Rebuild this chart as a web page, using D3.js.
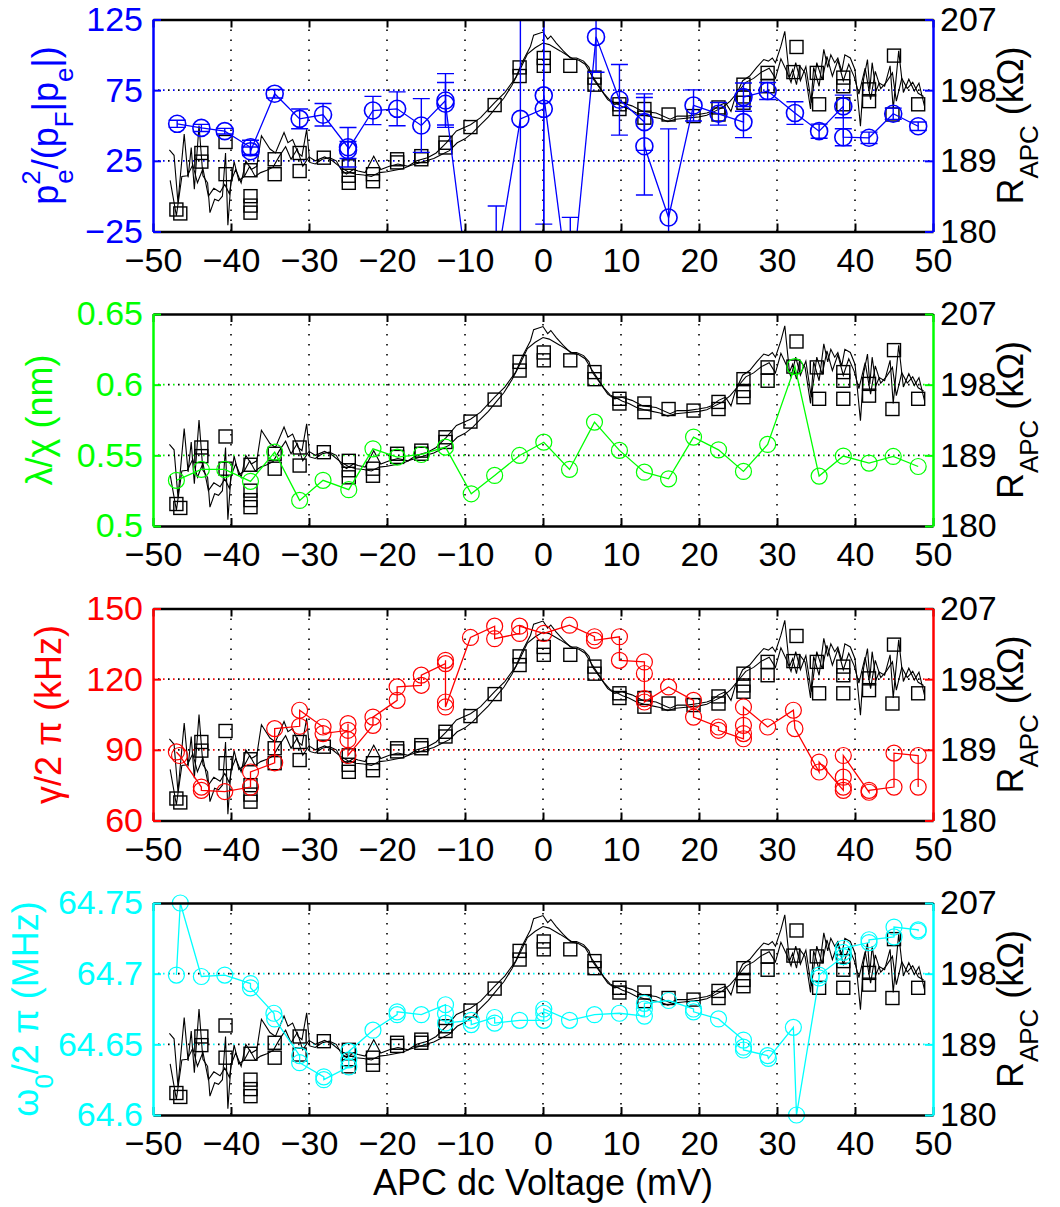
<!DOCTYPE html>
<html>
<head>
<meta charset="utf-8">
<script src="https://cdn.jsdelivr.net/npm/d3@7/dist/d3.min.js"></script>
<style>
  body { margin: 0; background: #fff; }
  svg { display: block; }
</style>
</head>
<body>
<svg id="fig" width="1060" height="1207"></svg>
<script>
// ---- shared axis values ----
const xTicks = [-50, -40, -30, -20, -10, 0, 10, 20, 30, 40, 50];
const rTicks = [180, 189, 198, 207];
const rTickLabels = ["180", "189", "198", "207"];

// ---- R_APC continuous sweeps [mV, kOhm] ----
const sweepUp = [
  [-47.9,190.4],[-47.3,189.7],[-46.8,183.7],[-46.0,192.4],[-45.5,186.9],[-45.1,190.7],[-44.7,185.4],[-44.1,193.5],
  [-43.6,187.1],[-43.0,186.2],[-42.7,182.4],[-42.1,184.1],[-41.6,183.9],[-41.1,184.5],[-40.7,190.0],[-40.4,180.8],
  [-40.0,186.4],[-39.4,187.9],[-38.7,186.2],[-38.1,189.0],[-37.4,187.9],[-36.7,188.3],[-36.1,192.2],[-35.0,190.5],
  [-34.3,190.0],[-33.2,192.6],[-32.7,191.3],[-32.1,191.7],[-31.4,190.0],[-30.9,189.6],[-30.3,193.0],[-29.9,188.8],
  [-29.2,188.6],[-28.3,189.2],[-27.4,189.4],[-26.5,189.0],[-25.9,187.9],[-25.2,187.3],[-24.3,187.9],[-23.7,187.7],
  [-22.8,187.5],[-21.7,189.6],[-20.8,187.9],[-19.7,188.3],[-18.6,188.6],[-17.3,188.3],[-16.2,189.0],[-14.8,189.4],
  [-13.7,190.0],[-12.4,191.3],[-11.1,192.8],[-9.3,193.6],[-8.0,194.5],[-6.2,196.4],[-4.9,197.7],[-3.5,199.6],
  [-2.7,201.5],[-1.6,203.6],[-1.2,205.0],[0.0,205.4],[0.6,204.5],[1.0,204.9],[1.7,204.0],[2.6,203.0],
  [3.5,202.1],[4.3,202.1],[5.2,201.7],[5.9,200.9],[6.3,199.6],[7.4,198.1],[8.3,196.8],[9.2,196.2],
  [10.1,196.4],[11.4,196.0],[12.8,195.3],[14.5,195.1],[16.3,194.3],[17.2,194.7],[18.5,194.7],[19.9,194.9],
  [21.0,195.1],[21.6,195.3],[22.5,196.0],[23.4,196.4],[24.1,195.3],[24.7,197.3],[25.6,199.2],[26.5,199.8],
  [27.4,200.9],[28.3,201.9],[28.9,201.7],[29.4,202.1],[29.8,201.5],[30.5,203.6],[31.0,205.5],[31.6,199.6],
  [32.0,200.6],[32.5,198.7],[32.9,201.1],[33.6,200.2],[34.3,195.6],[34.7,200.9],[35.4,198.5],[36.0,203.2],
  [36.5,200.9],[36.9,202.5],[37.4,201.5],[37.8,202.1],[38.3,200.4],[38.7,202.5],[39.4,202.1],[40.0,200.6],
  [40.7,193.4],[41.1,199.4],[41.6,201.9],[41.9,198.1],[42.2,201.5],[42.7,197.9],[43.1,198.9],[43.8,198.5],
  [44.5,201.1],[44.9,195.6],[45.6,203.0],[46.2,197.7],[46.9,199.4],[47.6,197.9],[48.2,198.9],[48.9,196.0]
];
const sweepDown = [
  [-47.8,186.5],[-47.0,182.0],[-46.3,187.0],[-45.6,187.1],[-44.9,188.5],[-44.3,186.2],[-43.6,188.0],[-42.9,184.5],
  [-42.2,185.5],[-41.4,185.0],[-40.8,186.0],[-40.2,184.8],[-39.6,188.9],[-39.0,186.5],[-38.3,187.0],[-37.6,188.3],
  [-36.9,187.0],[-36.2,187.5],[-35.4,187.8],[-34.6,188.2],[-33.8,189.6],[-33.0,190.8],[-32.3,189.2],[-31.5,190.5],
  [-30.8,188.3],[-30.0,189.5],[-29.2,189.0],[-28.0,189.5],[-27.0,189.0],[-26.0,188.2],[-25.0,187.6],[-24.0,187.3],
  [-23.0,187.2],[-22.0,187.0],[-21.0,187.5],[-20.0,187.6],[-19.0,187.8],[-18.0,188.0],[-17.0,188.4],[-16.0,188.7],
  [-15.0,189.0],[-14.0,189.3],[-13.0,189.8],[-12.0,190.3],[-11.0,191.3],[-10.0,191.8],[-9.0,192.6],[-8.0,193.6],
  [-7.0,194.6],[-6.0,195.8],[-5.0,197.0],[-4.0,198.6],[-3.0,200.5],[-2.0,202.6],[-1.0,203.4],[0.0,204.0],
  [0.8,203.8],[1.5,203.4],[2.2,203.0],[3.0,202.5],[3.8,202.0],[4.6,201.8],[5.4,201.3],[6.2,200.0],
  [7.0,198.8],[7.8,197.6],[8.6,196.7],[9.4,196.3],[10.2,195.9],[11.0,195.6],[12.0,195.1],[13.0,194.8],
  [14.0,194.6],[15.0,194.4],[16.0,194.0],[17.0,194.3],[18.0,194.4],[19.0,194.5],[20.0,194.6],[21.0,194.8],
  [22.0,195.3],[23.0,195.8],[24.0,196.6],[25.0,197.8],[26.0,199.0],[27.0,199.5],[28.0,200.3],[29.0,200.8],
  [29.8,199.5],[30.5,202.0],[31.2,200.5],[31.8,199.0],[32.4,201.5],[33.0,199.2],[33.7,201.0],[34.4,196.4],
  [35.1,201.5],[35.8,199.3],[36.4,202.3],[37.1,199.8],[37.8,201.8],[38.5,199.2],[39.2,201.3],[39.9,199.7],
  [40.5,197.5],[41.3,200.8],[42.0,196.8],[42.6,200.4],[43.3,198.2],[44.0,199.0],[44.8,200.2],[45.3,196.6],
  [46.0,199.5],[46.7,198.2],[47.4,199.0],[48.1,197.6],[48.8,197.2]
];

// ---- R_APC at the spectrum points [mV, kOhm] ----
const rPoints = [
  [-47.0,182.8],[-46.5,182.3],[-43.8,190.0],[-43.8,188.9],[-40.7,191.4],[-40.7,187.3],[-37.5,187.8],[-37.5,184.5],
  [-37.5,183.3],[-37.5,182.4],[-34.4,189.2],[-34.4,187.3],[-31.2,190.0],[-31.2,187.7],[-28.1,189.4],[-24.9,188.3],
  [-24.9,187.1],[-24.9,186.2],[-21.8,187.3],[-21.8,186.4],[-18.7,189.2],[-18.7,188.8],[-15.6,189.6],[-15.6,189.2],
  [-12.5,191.3],[-12.5,190.7],[-9.3,193.3],[-6.2,196.1],[-3.0,200.9],[-3.0,199.8],[0.1,202.1],[0.1,201.1],
  [3.5,201.1],[6.6,199.6],[6.6,198.7],[9.8,196.2],[9.8,195.6],[13.0,195.6],[13.0,194.5],[16.1,194.9],
  [19.3,194.7],[22.5,195.8],[22.5,194.9],[25.7,198.7],[25.7,197.2],[25.7,196.4],[28.8,200.2],[28.8,198.5],
  [32.5,203.5],[32.1,200.3],[35.1,200.2],[35.4,196.2],[38.5,199.6],[38.5,198.5],[38.5,196.2],[41.8,198.1],
  [41.8,196.6],[45.0,202.4],[44.8,194.9],[48.1,196.2]
];

// ---- panel 1: p_e^2/(p_F|p_e|) [mV, value, error] ----
const ratioPoints = [
  [-46.9,51.2,2.5],[-43.8,48.3,2.5],[-40.8,46.0,2],[-37.5,34.6,5],[-37.5,31.8,3],[-34.4,72.5,3],
  [-31.2,54.7,7],[-28.2,57.6,8],[-25.0,34.6,14],[-25.0,32.7,6],[-21.8,60.6,10],[-18.7,61.8,12],
  [-15.6,50.0,19],[-12.5,67.7,19],[-12.5,65.4,15],[-8.8,-95,10],[-6.0,-50,43],[-2.9,54.7,150],
  [0.1,61.8,81.6],[0.1,71.3,120],[3.5,-75,60],[6.8,112.7,25],[9.8,68.2,25],[13.0,52.4,20],
  [13.0,35.3,34.5],[16.1,-15.1,62.7],[19.3,64.2,11],[22.5,58.3,8],[25.7,52.4,11],[25.7,70.1,10],
  [28.8,74.4,6],[32.3,58.8,8],[35.4,46.0,5],[38.5,63.5,8],[38.5,41.7,6],[41.8,41.3,4],
  [44.9,58.3,4],[48.1,49.5,3]
];

// ---- panel 2: lambda/chi (nm) ----
const lambdaPoints = [
  [-47.0,0.5323],[-43.8,0.5400],[-40.8,0.5400],[-37.5,0.5316],[-34.4,0.5523],[-31.2,0.5181],
  [-28.2,0.5323],[-24.9,0.5257],[-21.8,0.5546],[-18.7,0.5487],[-15.6,0.5506],[-12.5,0.5558],
  [-9.2,0.5228],[-6.2,0.5358],[-3.0,0.5499],[0.1,0.5593],[3.4,0.5400],[6.6,0.5735],
  [9.8,0.5535],[13.0,0.5381],[16.1,0.5334],[19.3,0.5629],[22.5,0.5539],[25.7,0.5386],
  [28.8,0.5577],[32.3,0.6128],[35.4,0.5353],[38.5,0.5495],[41.8,0.5445],[44.9,0.5492],[48.1,0.5421]
];

// ---- panel 3: gamma/2pi (kHz) ----
const gammaPoints = [
  [-47.0,89.1],[-46.6,87.6],[-43.8,74.2],[-43.8,72.8],[-40.8,72.3],[-37.5,74.2],[-37.5,80.6],[-34.4,84.5],
  [-34.4,99.0],[-31.2,100.0],[-31.2,106.8],[-28.2,99.7],[-28.2,96.9],[-25.0,98.3],[-25.0,101.1],[-25.0,94.3],
  [-25.0,87.6],[-21.8,100.4],[-21.8,103.9],[-18.7,111.0],[-18.7,116.7],[-15.6,117.4],[-15.6,121.7],[-12.5,126.6],
  [-12.5,128.0],[-12.5,110.3],[-12.5,108.2],[-9.3,137.7],[-6.2,142.5],[-6.2,137.2],[-3.0,139.4],[-3.0,142.5],
  [0.1,139.4],[3.4,142.9],[6.6,138.0],[6.6,136.5],[9.8,138.0],[9.8,128.0],[13.0,127.3],[13.0,122.4],
  [13.0,111.7],[13.0,110.3],[16.1,116.7],[19.3,111.0],[19.3,103.9],[22.5,99.7],[22.5,98.3],[25.7,94.7],
  [25.7,96.9],[25.7,100.4],[25.7,108.2],[28.8,99.7],[32.1,106.8],[32.3,99.0],[35.4,80.6],[35.4,84.8],
  [38.5,72.8],[38.5,74.2],[38.5,78.4],[38.5,87.6],[41.8,72.0],[41.8,72.8],[45.0,74.2],[45.0,88.6],
  [48.1,87.6],[48.1,74.2]
];

// ---- panel 4: omega_0/2pi (MHz) ----
const omegaPoints = [
  [-47.0,64.699],[-46.5,64.750],[-43.8,64.698],[-40.8,64.699],[-37.5,64.693],[-37.5,64.690],[-34.5,64.672],[-34.4,64.668],
  [-31.2,64.642],[-31.2,64.637],[-28.1,64.627],[-28.1,64.625],[-24.9,64.634],[-24.9,64.639],[-24.9,64.645],[-21.8,64.660],
  [-18.7,64.671],[-18.7,64.673],[-15.6,64.671],[-12.5,64.678],[-12.5,64.672],[-12.5,64.665],[-9.2,64.667],[-9.2,64.664],
  [-6.2,64.669],[-6.2,64.665],[-3.0,64.667],[0.1,64.667],[0.1,64.672],[0.1,64.675],[3.4,64.667],[6.6,64.671],
  [9.8,64.672],[13.0,64.670],[13.0,64.675],[13.0,64.679],[16.1,64.681],[19.3,64.675],[19.3,64.673],[22.5,64.668],
  [25.7,64.653],[25.7,64.648],[25.7,64.646],[28.8,64.642],[28.9,64.640],[32.1,64.662],[32.5,64.600],[35.4,64.697],
  [35.4,64.699],[38.5,64.712],[38.5,64.715],[38.5,64.718],[41.8,64.722],[41.8,64.724],[45.0,64.726],[45.0,64.733],
  [48.1,64.731],[48.1,64.730]
];

// ---- left-axis tick values and labels per panel ----
const ticks1 = [-25, 25, 75, 125],        labels1 = ["\u221225", "25", "75", "125"];
const ticks2 = [0.5, 0.55, 0.6, 0.65],     labels2 = ["0.5", "0.55", "0.6", "0.65"];
const ticks3 = [60, 90, 120, 150],         labels3 = ["60", "90", "120", "150"];
const ticks4 = [64.6, 64.65, 64.7, 64.75], labels4 = ["64.6", "64.65", "64.7", "64.75"];

const FONT = '"Liberation Sans", Arial, Helvetica, sans-serif';
const svg = d3.select("#fig");

const plotL = 153, plotR = 933, plotH = 212;
const panelTops = [19.5, 314, 608.5, 903];
const x = d3.scaleLinear().domain([-50, 50]).range([plotL, plotR]);

const panels = [
  { color: "#0000ff", ticks: ticks1, labels: labels1, data: ratioPoints, errors: true, r: 8.5, sw: 1.6,
    labelX: 58, label: [{t: "p"}, {t: "2", sup: true}, {t: "e", sub: true, dx: -13.5}, {t: "/(p"}, {t: "F", sub: true}, {t: "|p"}, {t: "e", sub: true}, {t: "|)"}] },
  { color: "#00ff00", ticks: ticks2, labels: labels2, data: lambdaPoints, errors: false, r: 8, sw: 1.2,
    labelX: 52, label: [{t: "\u03bb/\u03c7 (nm)"}] },
  { color: "#ff0000", ticks: ticks3, labels: labels3, data: gammaPoints, errors: false, r: 8, sw: 1.2,
    labelX: 61, label: [{t: "\u03b3/2 \u03c0 (kHz)"}] },
  { color: "#00ffff", ticks: ticks4, labels: labels4, data: omegaPoints, errors: false, r: 8, sw: 1.2,
    labelX: 38, label: [{t: "\u03c9"}, {t: "0", sub: true}, {t: "/2 \u03c0 (MHz)"}] }
];

// rotated axis title with sub/superscript runs
function rotatedLabel(parent, cx, cy, segs, size, color) {
  const t = parent.append("text")
    .attr("transform", `translate(${cx},${cy}) rotate(-90)`)
    .attr("text-anchor", "middle")
    .attr("font-family", FONT)
    .attr("font-size", size)
    .attr("fill", color);
  let shift = 0;
  segs.forEach(s => {
    const target = s.sup ? -0.5 * size : s.sub ? 0.42 * size : 0;
    const ts = t.append("tspan").attr("dy", target - shift).text(s.t);
    if (s.sup || s.sub) ts.attr("font-size", size * 0.72);
    if (s.dx) ts.attr("dx", s.dx);
    shift = target;
  });
  return t;
}

function styleAxis(g, color, labelColor) {
  g.attr("font-family", FONT).attr("font-size", 34);
  g.select(".domain").attr("stroke", color).attr("stroke-width", 2.5);
  g.selectAll(".tick line").attr("stroke", color).attr("stroke-width", 2);
  g.selectAll(".tick text").attr("fill", labelColor);
}

panels.forEach((p, i) => {
  const top = panelTops[i], bottom = top + plotH;
  const yL = d3.scaleLinear().domain([p.ticks[0], p.ticks[p.ticks.length - 1]]).range([bottom, top]);
  const yR = d3.scaleLinear().domain([180, 207]).range([bottom, top]);
  const g = svg.append("g");

  const clipId = "plotclip" + i;
  svg.append("clipPath").attr("id", clipId)
    .append("rect").attr("x", plotL).attr("y", top).attr("width", plotR - plotL).attr("height", plotH);

  // dotted grid
  const grid = g.append("g");
  grid.selectAll("line.vg").data(xTicks.slice(1, -1)).join("line")
    .attr("x1", d => x(d)).attr("x2", d => x(d)).attr("y1", top).attr("y2", bottom)
    .attr("stroke", "#000").attr("stroke-width", 1.6).attr("stroke-dasharray", "1.6,8.4");
  const inner = p.ticks.slice(1, -1);
  grid.selectAll("line.hgc").data(inner).join("line")
    .attr("x1", plotL).attr("x2", plotR).attr("y1", d => yL(d)).attr("y2", d => yL(d))
    .attr("stroke", p.color).attr("stroke-width", 1.6).attr("stroke-dasharray", "1.6,8.4");
  grid.selectAll("line.hgk").data(rTicks.slice(1, -1)).join("line")
    .attr("x1", plotL).attr("x2", plotR).attr("y1", d => yR(d)).attr("y2", d => yR(d))
    .attr("stroke", "#000").attr("stroke-width", 1.6).attr("stroke-dasharray", "1.6,8.4")
    .attr("stroke-dashoffset", -5);

  // R_APC sweeps and point values (right axis)
  const rLine = d3.line().x(d => x(d[0])).y(d => yR(d[1]));
  const blk = g.append("g").attr("clip-path", `url(#${clipId})`);
  [sweepUp, sweepDown].forEach(s => {
    blk.append("path").attr("d", rLine(s)).attr("fill", "none")
      .attr("stroke", "#000").attr("stroke-width", 1.1).attr("stroke-linejoin", "miter");
  });
  g.append("g").selectAll("rect").data(rPoints).join("rect")
    .attr("x", d => x(d[0]) - 6.5).attr("y", d => yR(d[1]) - 6.5)
    .attr("width", 13).attr("height", 13)
    .attr("fill", "none").attr("stroke", "#000").attr("stroke-width", 1.4);

  // colored series (left axis)
  const col = g.append("g");
  const clipped = col.append("g").attr("clip-path", `url(#${clipId})`);
  if (p.errors) {
    const cap = 8.5;
    const eb = clipped.selectAll("g.eb").data(p.data).join("g");
    eb.append("line")
      .attr("x1", d => x(d[0])).attr("x2", d => x(d[0]))
      .attr("y1", d => yL(d[1] - d[2])).attr("y2", d => yL(d[1] + d[2]));
    eb.append("line")
      .attr("x1", d => x(d[0]) - cap).attr("x2", d => x(d[0]) + cap)
      .attr("y1", d => yL(d[1] - d[2])).attr("y2", d => yL(d[1] - d[2]));
    eb.append("line")
      .attr("x1", d => x(d[0]) - cap).attr("x2", d => x(d[0]) + cap)
      .attr("y1", d => yL(d[1] + d[2])).attr("y2", d => yL(d[1] + d[2]));
    eb.selectAll("line").attr("stroke", p.color).attr("stroke-width", 1.4);
  }
  const lLine = d3.line().x(d => x(d[0])).y(d => yL(d[1]));
  clipped.append("path").attr("d", lLine(p.data)).attr("fill", "none")
    .attr("stroke", p.color).attr("stroke-width", 1.3);
  const lo = yL.domain()[0] - 1e-9, hi = yL.domain()[1] + 1e-9;
  col.selectAll("circle").data(p.data.filter(d => d[1] >= lo && d[1] <= hi)).join("circle")
    .attr("cx", d => x(d[0])).attr("cy", d => yL(d[1])).attr("r", p.r)
    .attr("fill", "none").attr("stroke", p.color).attr("stroke-width", p.sw);

  // x axes (bottom with labels, top ticks only)
  const xb = g.append("g").attr("transform", `translate(0,${bottom})`)
    .call(d3.axisBottom(x).tickValues(xTicks).tickSize(-8).tickSizeOuter(0).tickPadding(16)
      .tickFormat(d => d < 0 ? "\u2212" + (-d) : String(d)));
  styleAxis(xb, "#000", "#000");
  const xt = g.append("g").attr("transform", `translate(0,${top})`)
    .call(d3.axisTop(x).tickValues(xTicks).tickSize(-8).tickSizeOuter(0).tickFormat(""));
  styleAxis(xt, "#000", "#000");

  // y axes (left colored, right R_APC)
  const ya = g.append("g").attr("transform", `translate(${plotL},0)`)
    .call(d3.axisLeft(yL).tickValues(p.ticks).tickSize(-8).tickSizeOuter(0).tickPadding(10)
      .tickFormat((d, k) => p.labels[k]));
  styleAxis(ya, p.color, p.color);
  const yb = g.append("g").attr("transform", `translate(${plotR},0)`)
    .call(d3.axisRight(yR).tickValues(rTicks).tickSize(-8).tickSizeOuter(0).tickPadding(7)
      .tickFormat((d, k) => rTickLabels[k]));
  styleAxis(yb, p.color, "#000");

  // axis titles
  const cy = top + plotH / 2;
  rotatedLabel(g, p.labelX, cy, p.label, 36, p.color);
  rotatedLabel(g, 1023, cy, [{t: "R"}, {t: "APC", sub: true}, {t: " (k\u03a9)"}], 36, "#000");
});

svg.append("text")
  .attr("x", (plotL + plotR) / 2).attr("y", 1195)
  .attr("text-anchor", "middle")
  .attr("font-family", FONT).attr("font-size", 36).attr("fill", "#000")
  .text("APC dc Voltage (mV)");
</script>
</body>
</html>
